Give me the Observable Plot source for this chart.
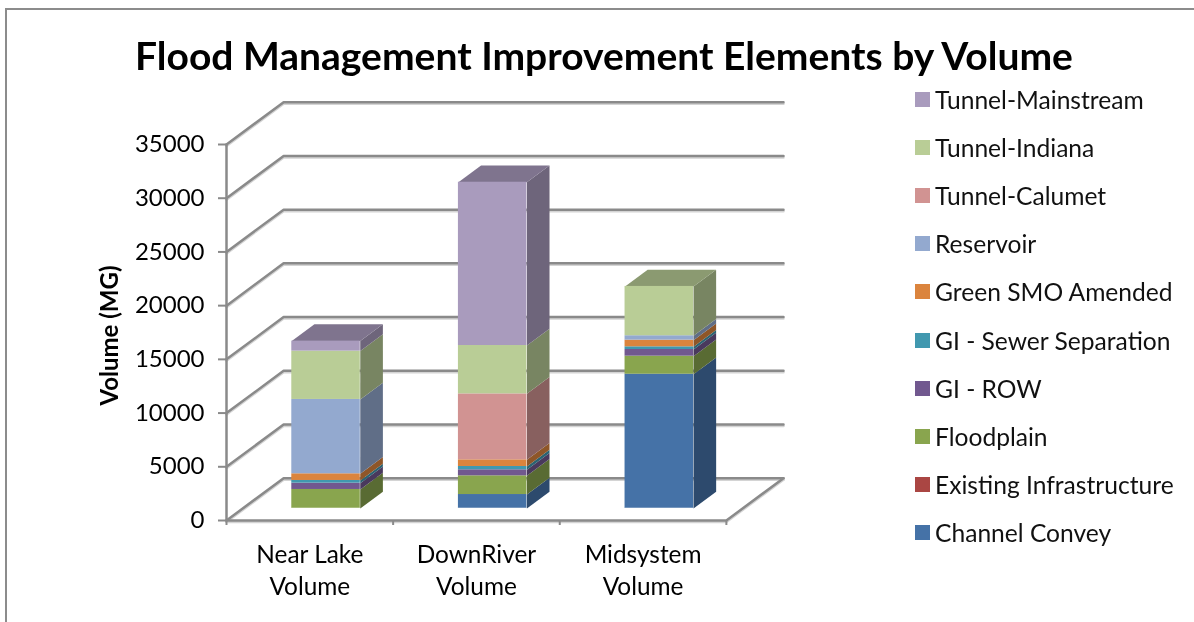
<!DOCTYPE html>
<html><head><meta charset="utf-8">
<script src="https://cdn.jsdelivr.net/npm/d3@7"></script>
<script src="https://cdn.jsdelivr.net/npm/@observablehq/plot@0.6"></script>
<style>
html,body{margin:0;padding:0;background:#fff;width:1194px;height:622px;overflow:hidden;font-family:Lato,"Open Sans",sans-serif;}
#wrap{position:relative;width:1194px;height:622px;filter:blur(0.35px);}
#frame{position:absolute;left:5px;top:8px;right:-5px;bottom:-5px;border:2px solid #8c8c8c;}
#title{position:absolute;left:0;width:1208px;top:31px;text-align:center;font-weight:700;font-size:39px;line-height:48px;color:#000;white-space:nowrap;}
#legend{position:absolute;left:915px;top:75px;}
.row{display:flex;align-items:center;height:48.2px;font-size:24.6px;color:#111;white-space:nowrap;}
.sw{width:15px;height:15px;margin-right:5px;flex:none;}
svg{position:absolute;left:0;top:0;}
</style></head><body><div id="wrap"><div id="frame"></div><div id="chart"></div><div id="title">Flood Management Improvement Elements by Volume</div><div id="legend"></div></div>
<script>
const categories = ["Near Lake\nVolume", "DownRiver\nVolume", "Midsystem\nVolume"];
const seriesNames = ["Channel Convey","Existing Infrastructure","Floodplain","GI - ROW","GI - Sewer Separation","Green SMO Amended","Reservoir","Tunnel-Calumet","Tunnel-Indiana","Tunnel-Mainstream"];
const seriesColors = ["#4572a7","#aa4643","#89a54e","#71588f","#4198af","#db843d","#93a9cf","#d19392","#b9cd96","#a99bbd"];
const channelConvey = [0, 1300, 12500];
const existingInfra = [0, 0, 0];
const floodplain = [1770, 1740, 1680];
const giRow = [590, 560, 620];
const giSewer = [250, 310, 250];
const greenSmo = [620, 620, 620];
const reservoir = [6920, 0, 410];
const tunnelCalumet = [0, 6140, 0];
const tunnelIndiana = [4500, 4500, 4590];
const tunnelMainstream = [930, 15200, 0];
const seriesValues = [channelConvey, existingInfra, floodplain, giRow, giSewer, greenSmo, reservoir, tunnelCalumet, tunnelIndiana, tunnelMainstream];
const yTicks = [0,5000,10000,15000,20000,25000,30000,35000];
const xTicks = [0,1,2,3];

// oblique projection in scale units: depth 0 = front of floor, depth 1 = back wall
const DX = 0.3428, DY = 3937;
const barW = 0.411, barD0 = 0.284, barD1 = 0.68;
const px = (c, d) => c + d * DX;
const py = (v, d) => v + d * DY;
const shade = (col, k) => { const c = d3.rgb(col); return d3.rgb(c.r*k, c.g*k, c.b*k).formatHex(); };

const polys = [];
const fronts = [];
let pid = 0;
const poly = (pts, fill) => { pid++; pts.forEach(p => polys.push({x:p[0], y:p[1], id:pid, fill})); };
categories.forEach((cat, i) => {
  const c0 = i + 0.5 - barW/2, c1 = i + 0.5 + barW/2;
  let base = 0, topColor = null;
  seriesValues.forEach((vals, s) => {
    const v = vals[i]; if (!v) return;
    const col = seriesColors[s];
    poly([[px(c1,barD0),py(base,barD0)],[px(c1,barD1),py(base,barD1)],[px(c1,barD1),py(base+v,barD1)],[px(c1,barD0),py(base+v,barD0)]], shade(col,0.65));
    fronts.push({x1:px(c0,barD0), x2:px(c1,barD0), y1:py(base,barD0), y2:py(base+v,barD0), fill:col});
    base += v; topColor = col;
  });
  poly([[px(c0,barD0),py(base,barD0)],[px(c1,barD0),py(base,barD0)],[px(c1,barD1),py(base,barD1)],[px(c0,barD1),py(base,barD1)]], shade(topColor,0.75));
});
const grid = yTicks.flatMap(v => [[0,0],[0,1],[3,1]].map(([c,d]) => ({x:px(c,d), y:py(v,d), v})));
const floor = [[0,0],[3,0],[3,1]].map(([c,d]) => ({x:px(c,d), y:py(0,d)}));
const wall = [{x:0,y:0},{x:0,y:35000}];
const bottoms = categories.map((c,i) => ({x1:px(i+0.5-barW/2,barD0), x2:px(i+0.5+barW/2,barD0), y:py(0,barD0)}));
const catLabels = categories.map((c,i) => ({x:i+0.5, y:0, t:c}));
const GRID = "#8a8a8a", SHADOW = "#d4d4d4";

const chart = Plot.plot({
  width:1194, height:622, marginLeft:226, marginRight:411, marginTop:144, marginBottom:102,
  style:{fontFamily:"Lato,'Open Sans',sans-serif", background:"transparent", overflow:"visible"},
  x:{domain:[0,3+DX], axis:null},
  y:{domain:[0,35000], axis:null},
  marks:[
    Plot.line(grid,{x:"x",y:"y",z:"v",stroke:SHADOW,strokeWidth:2.5,dy:1.5}),
    Plot.line(grid,{x:"x",y:"y",z:"v",stroke:GRID,strokeWidth:2.5}),
    Plot.line(floor,{x:"x",y:"y",stroke:SHADOW,strokeWidth:2.5,dy:1.5}),
    Plot.line(floor,{x:"x",y:"y",stroke:GRID,strokeWidth:2.5}),
    Plot.line(wall,{x:"x",y:"y",stroke:GRID,strokeWidth:2.5}),
    Plot.axisY({ticks:yTicks,tickSize:8,tickPadding:14,tickFormat:d3.format("d"),stroke:GRID,fill:"#000",fontSize:24,label:null,strokeWidth:2}),
    Plot.axisX({ticks:xTicks,tickSize:5,tickFormat:()=>"",stroke:GRID,label:null,strokeWidth:2}),
    Plot.line(polys,{x:"x",y:"y",z:"id",fill:"fill",stroke:null}),
    Plot.rect(fronts,{x1:"x1",x2:"x2",y1:"y1",y2:"y2",fill:"fill"}),
    Plot.ruleY(bottoms,{x1:"x1",x2:"x2",y:"y",stroke:"#fff",strokeOpacity:0.5,strokeWidth:2}),
    Plot.text(catLabels,{x:"x",y:"y",text:"t",dy:19,lineAnchor:"top",lineHeight:1.33,fontSize:24.4,fill:"#000"}),
    Plot.text(["Volume (MG)"],{x:[-0.70],y:[17220],text:d=>d,rotate:-90,fontWeight:700,fontSize:24,fill:"#000"})
  ]
});
document.getElementById("chart").appendChild(chart);

const legend = document.getElementById("legend");
seriesNames.map((n,i)=>[n,seriesColors[i]]).reverse().forEach(([n,c])=>{
  const r = document.createElement("div"); r.className="row";
  const s = document.createElement("div"); s.className="sw"; s.style.background=c;
  const t = document.createElement("span"); t.textContent=n;
  r.append(s,t); legend.append(r);
});
</script></body></html>
